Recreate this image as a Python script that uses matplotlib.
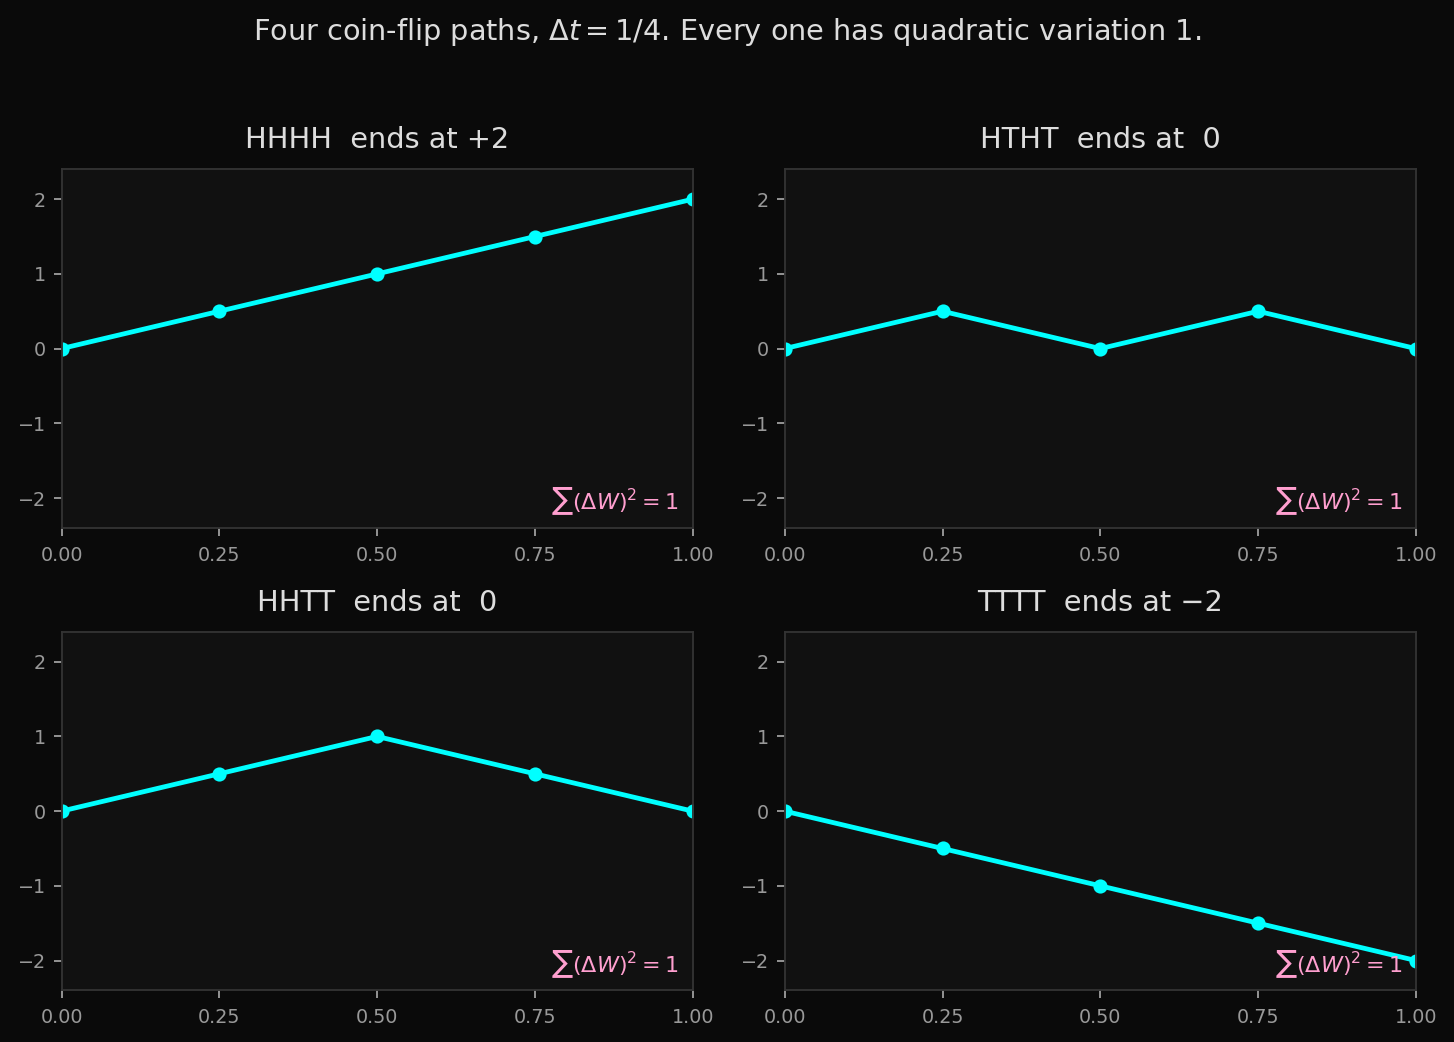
import matplotlib
matplotlib.use("Agg")
import matplotlib.pyplot as plt
import numpy as np

times = [0.0, 0.25, 0.5, 0.75, 1.0]
paths = {
    "HHHH": [0.0, 0.5, 1.0, 1.5, 2.0],
    "HTHT": [0.0, 0.5, 0.0, 0.5, 0.0],
    "HHTT": [0.0, 0.5, 1.0, 0.5, 0.0],
    "TTTT": [0.0, -0.5, -1.0, -1.5, -2.0],
}
end_labels = ["+2", " 0", " 0", "\u22122"]
xticks = [0.0, 0.25, 0.5, 0.75, 1.0]
xticklabels = ["0.00", "0.25", "0.50", "0.75", "1.00"]
yticks = [-2, -1, 0, 1, 2]

BG = "#0a0a0a"
AX = "#111111"
CYAN = "#00ffff"
PINK = "#ff9fcf"
TXT = "#dddddd"
TICK = "#999999"
SPINE = "#333333"

fig, axes = plt.subplots(2, 2, figsize=(14.54 / 1.5, 10.42 / 1.5), dpi=150)
fig.patch.set_facecolor(BG)
fig.subplots_adjust(left=0.0423, right=0.9738, top=0.8375, bottom=0.0495,
                    wspace=0.146, hspace=0.29)

for ax, (name, vals), end in zip(axes.flat, paths.items(), end_labels):
    ax.set_facecolor(AX)
    ax.plot(times, vals, color=CYAN, lw=2.3, marker="o", ms=5.8, clip_on=True)
    ax.set_xlim(0, 1)
    ax.set_ylim(-2.4, 2.4)
    ax.set_xticks(xticks)
    ax.set_xticklabels(xticklabels)
    ax.set_yticks(yticks)
    ax.set_yticklabels([str(v).replace("-", "\u2212") for v in yticks])
    ax.tick_params(colors=TICK, labelsize=9.2, length=4, width=0.9)
    ax.tick_params(axis="x", pad=4.5)
    for sp in ax.spines.values():
        sp.set_color(SPINE)
        sp.set_linewidth(0.9)
    ax.set_title(f"{name}  ends at {end}", color=TXT, fontsize=13.8, pad=10)
    ax.text(0.979, 0.03, r"$\sum(\Delta W)^2 = 1$", transform=ax.transAxes,
            ha="right", va="bottom", color=PINK, fontsize=10.7)

fig.suptitle(r"Four coin-flip paths, $\Delta t = 1/4$. Every one has quadratic variation 1.",
             color=TXT, fontsize=13.8, y=0.985)

fig.savefig("out.png", dpi=150, facecolor=BG)
